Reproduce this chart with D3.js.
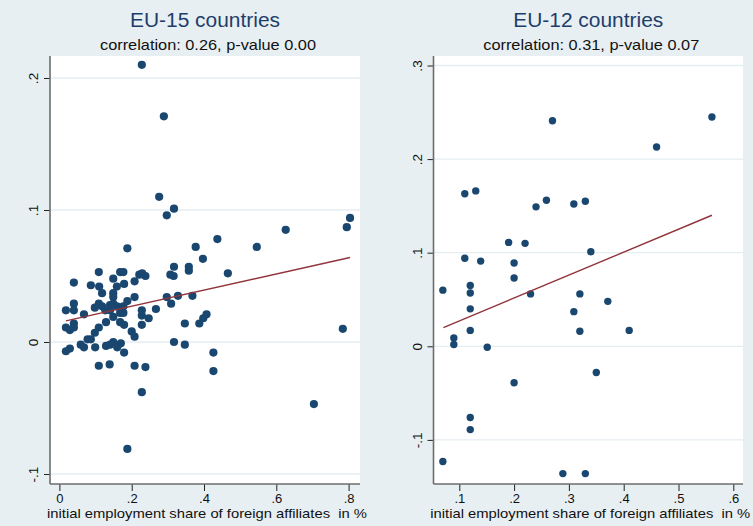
<!DOCTYPE html>
<html><head><meta charset="utf-8">
<script src="https://cdn.jsdelivr.net/npm/d3@7"></script>
<style>
html,body{margin:0;padding:0;background:#e8eff2;}
svg{display:block;font-family:"Liberation Sans",Arial,Helvetica,sans-serif;}
</style></head>
<body>
<svg id="chart" width="753" height="526"></svg>
<script>
// ---------- data ----------
const eu15X = [0.228,0.289,0.276,0.297,0.317,0.804,0.795,0.626,0.546,0.437,0.377,0.397,0.466,0.358,0.358,0.188,
  0.109,0.168,0.177,0.149,0.040,0.087,0.110,0.159,0.179,0.208,0.221,0.229,0.238,0.307,0.316,0.317,
  0.118,0.149,0.149,0.208,0.297,0.328,0.368,0.309,0.267,0.018,0.040,0.040,0.068,0.098,0.109,0.118,
  0.140,0.149,0.159,0.168,0.177,0.188,0.127,0.140,0.168,0.177,0.228,0.228,0.149,0.247,0.398,0.407,
  0.387,0.347,0.018,0.029,0.040,0.040,0.109,0.098,0.129,0.168,0.179,0.200,0.208,0.228,0.078,0.087,
  0.018,0.029,0.059,0.068,0.099,0.129,0.140,0.149,0.160,0.170,0.179,0.317,0.347,0.426,0.426,0.109,
  0.139,0.208,0.238,0.228,0.188,0.784,0.704];
const eu15Y = [0.210,0.171,0.110,0.096,0.101,0.094,0.087,0.085,0.072,0.078,0.072,0.063,0.052,0.057,0.054,0.071,
  0.053,0.053,0.053,0.048,0.045,0.043,0.042,0.042,0.044,0.046,0.051,0.052,0.050,0.051,0.050,0.057,
  0.037,0.037,0.034,0.034,0.034,0.035,0.035,0.029,0.025,0.024,0.029,0.024,0.021,0.026,0.029,0.027,
  0.028,0.029,0.027,0.026,0.027,0.031,0.024,0.024,0.022,0.022,0.024,0.020,0.019,0.018,0.018,0.021,
  0.014,0.014,0.011,0.009,0.014,0.011,0.011,0.007,0.015,0.015,0.013,0.008,0.004,0.013,0.002,0.002,
  -0.007,-0.005,-0.002,-0.004,-0.004,-0.003,-0.002,0.000,-0.004,-0.001,-0.008,0.000,-0.002,-0.008,-0.022,-0.018,
  -0.017,-0.018,-0.019,-0.038,-0.081,0.010,-0.047];
const eu15FitX = [0.018, 0.804];
const eu15FitY = [0.016, 0.064];

const eu12X = [0.270,0.110,0.130,0.240,0.259,0.309,0.330,0.190,0.220,0.110,0.139,0.340,0.200,0.200,
  0.070,0.120,0.120,0.230,0.320,0.371,0.120,0.309,0.120,0.320,0.090,0.090,0.151,0.350,0.200,0.120,
  0.120,0.070,0.289,0.330,0.561,0.460,0.410];
const eu12Y = [0.241,0.163,0.166,0.149,0.156,0.152,0.155,0.111,0.110,0.094,0.091,0.101,0.089,0.073,
  0.060,0.065,0.057,0.056,0.056,0.048,0.040,0.037,0.017,0.016,0.009,0.002,-0.001,-0.028,-0.039,-0.076,
  -0.089,-0.123,-0.136,-0.136,0.245,0.213,0.017];
const eu12FitX = [0.071, 0.561];
const eu12FitY = [0.020, 0.140];

const eu15XTicks = [0, 0.2, 0.4, 0.6, 0.8];
const eu15XLabels = ["0", ".2", ".4", ".6", ".8"];
const eu15YTicks = [-0.1, 0, 0.1, 0.2];
const eu15YLabels = ["-.1", "0", ".1", ".2"];
const eu12XTicks = [0.1, 0.2, 0.3, 0.4, 0.5, 0.6];
const eu12XLabels = [".1", ".2", ".3", ".4", ".5", ".6"];
const eu12YTicks = [-0.1, 0, 0.1, 0.2, 0.3];
const eu12YLabels = ["-.1", "0", ".1", ".2", ".3"];

const titles = ["EU-15 countries", "EU-12 countries"];
const subtitles = ["correlation: 0.26, p-value 0.00", "correlation: 0.31, p-value 0.07"];
const xTitle = "initial employment share of foreign affiliates  in %";

// ---------- drawing ----------
const svg = d3.select("#chart");
svg.append("rect").attr("width",753).attr("height",526).attr("fill","#e8eff2");

const panels = [
  {title:titles[0], sub:subtitles[0], xs:eu15X, ys:eu15Y, fx:eu15FitX, fy:eu15FitY,
   xt:eu15XTicks, xl:eu15XLabels, yt:eu15YTicks, yl:eu15YLabels,
   left:50, right:360, top:56, bottom:484,
   xDom:[0,0.8], xRange:[59.4,348.6], yDom:[-0.1,0.2], yRange:[474,78], r:4.1},
  {title:titles[1], sub:subtitles[1], xs:eu12X, ys:eu12Y, fx:eu12FitX, fy:eu12FitY,
   xt:eu12XTicks, xl:eu12XLabels, yt:eu12YTicks, yl:eu12YLabels,
   left:433.5, right:743, top:56, bottom:484,
   xDom:[0.1,0.6], xRange:[459.3,733.3], yDom:[-0.1,0.3], yRange:[439.9,65.5], r:3.7}
];

panels.forEach(p => {
  const g = svg.append("g");
  const x = d3.scaleLinear().domain(p.xDom).range(p.xRange);
  const y = d3.scaleLinear().domain(p.yDom).range(p.yRange);
  const cx = (p.left + p.right) / 2;

  g.append("rect").attr("x",p.left).attr("y",p.top)
    .attr("width",p.right-p.left).attr("height",p.bottom-p.top).attr("fill","#ffffff");

  // gridlines
  g.selectAll(".grid").data(p.yt).enter().append("line")
    .attr("x1",p.left).attr("x2",p.right)
    .attr("y1",d=>y(d)).attr("y2",d=>y(d))
    .attr("stroke","#e4edf0").attr("stroke-width",1.3);

  // titles
  g.append("text").attr("x",cx).attr("y",27).attr("text-anchor","middle")
    .attr("font-size",20).attr("fill","#1e3d6b")
    .attr("textLength",150).attr("lengthAdjust","spacingAndGlyphs").text(p.title);
  g.append("text").attr("x",cx+3).attr("y",50).attr("text-anchor","middle")
    .attr("font-size",15).attr("fill","#111")
    .attr("textLength",216).attr("lengthAdjust","spacingAndGlyphs").text(p.sub);

  // y axis
  const yAxis = d3.axisLeft(y).tickValues(p.yt)
    .tickFormat((d,i)=>p.yl[i]).tickSize(6);
  const ya = g.append("g").attr("transform",`translate(${p.left},0)`).call(yAxis);
  ya.select(".domain").remove();
  ya.selectAll(".tick line").attr("stroke","#222");
  ya.selectAll(".tick text")
    .attr("font-size",13.5).attr("fill","#111")
    .attr("font-family","'Liberation Sans',Arial,sans-serif")
    .attr("x",null).attr("dy",null)
    .attr("transform","translate(-12,0) rotate(-90)")
    .attr("y",0)
    .attr("text-anchor","middle");
  g.append("line").attr("x1",p.left).attr("x2",p.left).attr("y1",p.top).attr("y2",p.bottom)
    .attr("stroke","#6d6d6d").attr("stroke-width",1.6);

  // x axis
  const xAxis = d3.axisBottom(x).tickValues(p.xt)
    .tickFormat((d,i)=>p.xl[i]).tickSize(7).tickPadding(3);
  const xa = g.append("g").attr("transform",`translate(0,${p.bottom})`).call(xAxis);
  xa.select(".domain").remove();
  xa.selectAll(".tick line").attr("stroke","#222");
  xa.selectAll(".tick text").attr("font-size",13).attr("fill","#111")
    .attr("font-family","'Liberation Sans',Arial,sans-serif")
    .attr("dy",null).attr("dominant-baseline","alphabetic").attr("y",19);
  g.append("line").attr("x1",p.left).attr("x2",p.right).attr("y1",p.bottom).attr("y2",p.bottom)
    .attr("stroke","#6d6d6d").attr("stroke-width",1.6);

  g.append("text").attr("x",cx+2).attr("y",518).attr("text-anchor","middle")
    .attr("font-size",13.5).attr("fill","#111").style("white-space","pre")
    .attr("textLength",320).attr("lengthAdjust","spacingAndGlyphs").text(xTitle);

  // points
  g.selectAll(".pt").data(p.xs.map((v,i)=>[v,p.ys[i]])).enter().append("circle")
    .attr("cx",d=>x(d[0])).attr("cy",d=>y(d[1])).attr("r",p.r).attr("fill","#1a476f");

  // fit line
  g.append("line").attr("x1",x(p.fx[0])).attr("y1",y(p.fy[0]))
    .attr("x2",x(p.fx[1])).attr("y2",y(p.fy[1]))
    .attr("stroke","#90353b").attr("stroke-width",1.4);
});
</script>
</body></html>
